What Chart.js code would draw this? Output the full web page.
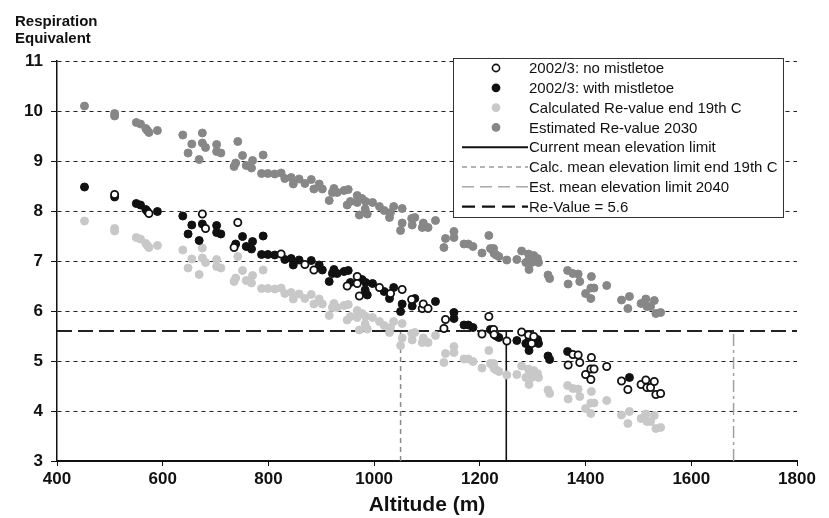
<!DOCTYPE html>
<html>
<head>
<meta charset="utf-8">
<script src="https://cdn.jsdelivr.net/npm/chart.js@4.4.0/dist/chart.umd.min.js"></script>
<style>
  html, body { margin: 0; padding: 0; background: #fff; }
  #wrap { width: 829px; height: 518px; }
</style>
</head>
<body>
<div id="wrap"><canvas id="respChart" width="829" height="518"></canvas></div>
<script>
// 2002/3 measurements, trees without mistletoe (open circles)
const noMistAlt = [509, 574, 675, 681, 735, 742, 824, 869, 886, 949,
  968, 968, 972, 1010, 1031, 1053, 1071, 1091, 1093, 1102,
  1132, 1135, 1204, 1217, 1226, 1227, 1251, 1279, 1292, 1298,
  1302, 1367, 1376, 1386, 1389, 1400, 1410, 1410, 1411, 1416,
  1440, 1468, 1480, 1505, 1514, 1516, 1523, 1530, 1533, 1542];
const noMistRe = [8.33, 7.95, 7.94, 7.65, 7.27, 7.77, 7.14, 6.93, 6.82, 6.50,
  6.69, 6.55, 6.30, 6.47, 6.35, 6.43, 6.23, 6.05, 6.14, 6.05,
  5.65, 5.83, 5.54, 5.89, 5.63, 5.53, 5.40, 5.58, 5.52, 5.35,
  5.49, 4.92, 5.13, 5.12, 4.97, 4.73, 4.84, 4.63, 5.07, 4.84,
  4.89, 4.60, 4.43, 4.53, 4.62, 4.47, 4.47, 4.59, 4.33, 4.35];

// 2002/3 measurements, trees with mistletoe (filled black)
const withMistAlt = [452, 509, 550, 558, 568, 571, 590, 638, 648, 655,
  669, 675, 702, 702, 710, 738, 751, 758, 768, 770,
  787, 790, 799, 812, 831, 843, 847, 858, 881, 896,
  902, 915, 921, 924, 930, 943, 951, 955, 977, 983,
  984, 987, 997, 1019, 1029, 1037, 1050, 1053, 1072, 1077,
  1116, 1151, 1151, 1170, 1178, 1187, 1220, 1224, 1231, 1236,
  1270, 1287, 1292, 1293, 1309, 1311, 1329, 1332, 1366, 1483];
const withMistRe = [8.48, 8.28, 8.15, 8.12, 8.03, 7.99, 7.99, 7.90, 7.54, 7.72,
  7.41, 7.74, 7.71, 7.57, 7.54, 7.34, 7.49, 7.29, 7.24, 7.39,
  7.13, 7.50, 7.13, 7.12, 7.03, 7.05, 6.92, 7.02, 7.01, 6.92,
  6.82, 6.59, 6.75, 6.83, 6.75, 6.79, 6.81, 6.57, 6.63, 6.42,
  6.57, 6.32, 6.55, 6.39, 6.25, 6.47, 5.99, 6.14, 6.10, 6.25,
  6.19, 5.97, 5.85, 5.72, 5.72, 5.67, 5.63, 5.60, 5.50, 5.47,
  5.41, 5.35, 5.39, 5.21, 5.43, 5.35, 5.10, 5.03, 5.19, 4.67];

// altitudes of the calculated / estimated Re-values (same trees)
const modelAlt = [452, 509, 509, 550, 558, 568, 571, 574, 590, 638,
  648, 655, 669, 675, 675, 681, 702, 702, 710, 735,
  738, 742, 751, 758, 768, 770, 787, 790, 799, 812,
  824, 831, 843, 847, 858, 869, 881, 886, 896, 902,
  915, 921, 924, 930, 943, 949, 951, 955, 968, 968,
  972, 977, 983, 984, 987, 997, 1010, 1019, 1029, 1031,
  1037, 1050, 1053, 1053, 1071, 1072, 1077, 1091, 1093, 1102,
  1116, 1132, 1135, 1151, 1151, 1170, 1178, 1187, 1204, 1217,
  1220, 1224, 1226, 1227, 1231, 1236, 1251, 1270, 1279, 1287,
  1292, 1292, 1293, 1298, 1302, 1309, 1311, 1329, 1332, 1366,
  1367, 1376, 1386, 1389, 1400, 1410, 1410, 1411, 1416, 1440,
  1468, 1480, 1483, 1505, 1514, 1516, 1523, 1530, 1533, 1542];
const calcRe = [7.80, 7.60, 7.65, 7.47, 7.44, 7.35, 7.31, 7.27, 7.31, 7.22,
  6.86, 7.04, 6.73, 7.06, 7.26, 6.97, 7.03, 6.89, 6.86, 6.59,
  6.66, 7.09, 6.81, 6.61, 6.56, 6.71, 6.45, 6.82, 6.45, 6.44,
  6.46, 6.35, 6.37, 6.24, 6.34, 6.25, 6.33, 6.14, 6.24, 6.14,
  5.91, 6.07, 6.15, 6.07, 6.11, 5.82, 6.13, 5.89, 6.01, 5.87,
  5.62, 5.95, 5.74, 5.89, 5.64, 5.87, 5.79, 5.71, 5.57, 5.67,
  5.79, 5.31, 5.46, 5.75, 5.55, 5.42, 5.57, 5.37, 5.46, 5.37,
  5.51, 4.97, 5.15, 5.29, 5.17, 5.04, 5.04, 4.99, 4.86, 5.21,
  4.95, 4.92, 4.95, 4.85, 4.82, 4.79, 4.72, 4.73, 4.90, 4.67,
  4.71, 4.84, 4.53, 4.67, 4.81, 4.75, 4.67, 4.42, 4.35, 4.51,
  4.24, 4.45, 4.44, 4.29, 4.05, 4.16, 3.95, 4.39, 4.16, 4.21,
  3.92, 3.75, 3.99, 3.85, 3.94, 3.79, 3.79, 3.91, 3.65, 3.67];
const estRe = [10.10, 9.90, 9.95, 9.77, 9.74, 9.65, 9.61, 9.57, 9.61, 9.52,
  9.16, 9.34, 9.03, 9.36, 9.56, 9.27, 9.33, 9.19, 9.16, 8.89,
  8.96, 9.39, 9.11, 8.91, 8.86, 9.01, 8.75, 9.12, 8.75, 8.74,
  8.76, 8.65, 8.67, 8.54, 8.64, 8.55, 8.63, 8.44, 8.54, 8.44,
  8.21, 8.37, 8.45, 8.37, 8.41, 8.12, 8.43, 8.19, 8.31, 8.17,
  7.92, 8.25, 8.04, 8.19, 7.94, 8.17, 8.09, 8.01, 7.87, 7.97,
  8.09, 7.61, 7.76, 8.05, 7.85, 7.72, 7.87, 7.67, 7.76, 7.67,
  7.81, 7.27, 7.45, 7.59, 7.47, 7.34, 7.34, 7.29, 7.16, 7.51,
  7.25, 7.22, 7.25, 7.15, 7.12, 7.09, 7.02, 7.03, 7.20, 6.97,
  7.01, 7.14, 6.83, 6.97, 7.11, 7.05, 6.97, 6.72, 6.65, 6.81,
  6.54, 6.75, 6.74, 6.59, 6.35, 6.46, 6.25, 6.69, 6.46, 6.51,
  6.22, 6.05, 6.29, 6.15, 6.24, 6.09, 6.09, 6.21, 5.95, 5.97];

// reference lines
const reValue = 5.6;
const currentLimit = 1250;
const calcLimit = 1050;
const estLimit = 1680;
const altRange = [400, 1800];
const reRange = [3, 11];

const toXY = (xs, ys) => xs.map((x, i) => ({ x: x, y: ys[i] }));

const legendItems = [
  { label: "2002/3: no mistletoe", kind: "point", fill: "#ffffff", stroke: "#111111" },
  { label: "2002/3: with mistletoe", kind: "point", fill: "#111111", stroke: "#111111" },
  { label: "Calculated Re-value end 19th C", kind: "point", fill: "#c8c8c8", stroke: "#c8c8c8" },
  { label: "Estimated Re-value 2030", kind: "point", fill: "#878787", stroke: "#878787" },
  { label: "Current mean elevation limit", kind: "line", color: "#111111", width: 2, dash: [] },
  { label: "Calc. mean elevation limit end 19th C", kind: "line", color: "#9a9a9a", width: 1.5, dash: [5, 4] },
  { label: "Est. mean elevation limit 2040", kind: "line", color: "#a8a8a8", width: 1.5, dash: [12, 6] },
  { label: "Re-Value = 5.6", kind: "line", color: "#111111", width: 2.2, dash: [13, 7] }
];

// axis heading at the top-left and the boxed legend inside the plot
const extrasPlugin = {
  id: "extras",
  afterDraw(chart) {
    const ctx = chart.ctx;
    ctx.save();
    ctx.fillStyle = "#111";
    ctx.font = "bold 15px 'Liberation Sans', Arial, sans-serif";
    ctx.textBaseline = "alphabetic";
    ctx.textAlign = "left";
    ctx.fillText("Respiration", 15, 26);
    ctx.fillText("Equivalent", 15, 43);

    // legend box
    ctx.fillStyle = "#fff";
    ctx.fillRect(453, 58, 330, 159);
    ctx.strokeStyle = "#333";
    ctx.lineWidth = 1;
    ctx.strokeRect(453.5, 58.5, 330, 159);

    ctx.font = "15px 'Liberation Sans', Arial, sans-serif";
    ctx.textBaseline = "middle";
    legendItems.forEach((item, i) => {
      const cy = 68 + i * 19.8;
      if (item.kind === "point") {
        ctx.beginPath();
        ctx.arc(496, cy, 3.6, 0, Math.PI * 2);
        ctx.fillStyle = item.fill;
        ctx.fill();
        ctx.lineWidth = 1.6;
        ctx.strokeStyle = item.stroke;
        ctx.stroke();
      } else {
        ctx.beginPath();
        ctx.setLineDash(item.dash);
        ctx.lineWidth = item.width;
        ctx.strokeStyle = item.color;
        ctx.moveTo(462, cy);
        ctx.lineTo(528, cy);
        ctx.stroke();
        ctx.setLineDash([]);
      }
      ctx.fillStyle = "#111";
      ctx.fillText(item.label, 529, cy + 1);
    });
    ctx.restore();
  }
};

const ctx = document.getElementById("respChart").getContext("2d");
const respChart = new Chart(ctx, {
  type: "scatter",
  data: {
    datasets: [
      {
        label: "2002/3: no mistletoe",
        data: toXY(noMistAlt, noMistRe),
        backgroundColor: "#ffffff",
        borderColor: "#111111",
        borderWidth: 1.8,
        pointRadius: 3.6,
        order: 0
      },
      {
        label: "2002/3: with mistletoe",
        data: toXY(withMistAlt, withMistRe),
        backgroundColor: "#111111",
        borderColor: "#111111",
        borderWidth: 1,
        pointRadius: 4,
        order: 1
      },
      {
        label: "Calculated Re-value end 19th C",
        data: toXY(modelAlt, calcRe),
        backgroundColor: "#c8c8c8",
        borderColor: "#c8c8c8",
        borderWidth: 1,
        pointRadius: 4,
        order: 2
      },
      {
        label: "Estimated Re-value 2030",
        data: toXY(modelAlt, estRe),
        backgroundColor: "#878787",
        borderColor: "#878787",
        borderWidth: 1,
        pointRadius: 4,
        order: 3
      },
      {
        type: "line",
        label: "Current mean elevation limit",
        data: [{ x: currentLimit, y: reRange[0] }, { x: currentLimit, y: reValue }],
        borderColor: "#111111",
        borderWidth: 1.6,
        pointRadius: 0,
        order: 5
      },
      {
        type: "line",
        label: "Calc. mean elevation limit end 19th C",
        data: [{ x: calcLimit, y: reRange[0] }, { x: calcLimit, y: reValue }],
        borderColor: "#8a8a8a",
        borderWidth: 1.5,
        borderDash: [5, 4],
        pointRadius: 0,
        order: 6
      },
      {
        type: "line",
        label: "Est. mean elevation limit 2040",
        data: [{ x: estLimit, y: reRange[0] }, { x: estLimit, y: reValue }],
        borderColor: "#a0a0a0",
        borderWidth: 1.5,
        borderDash: [12, 4, 3, 4],
        pointRadius: 0,
        order: 7
      },
      {
        type: "line",
        label: "Re-Value = 5.6",
        data: [{ x: altRange[0], y: reValue }, { x: altRange[1], y: reValue }],
        borderColor: "#222222",
        borderWidth: 2,
        borderDash: [15, 6],
        pointRadius: 0,
        order: 4
      }
    ]
  },
  options: {
    responsive: false,
    animation: false,
    devicePixelRatio: 1,
    layout: { padding: { top: 61, right: 32, left: 0, bottom: 0 } },
    plugins: {
      legend: { display: false },
      tooltip: { enabled: false }
    },
    scales: {
      x: {
        type: "linear",
        min: altRange[0],
        max: altRange[1],
        afterFit: (scale) => { scale.height = 57; },
        ticks: {
          stepSize: 200,
          color: "#111",
          padding: 3,
          callback: (value) => String(value),
          font: { family: "'Liberation Sans', Arial, sans-serif", size: 17, weight: "bold" }
        },
        grid: { drawOnChartArea: false, color: "#111", tickLength: 5 },
        border: { color: "#111", width: 2 },
        title: {
          display: true,
          text: "Altitude (m)",
          color: "#111",
          padding: { top: 0, bottom: 0 },
          font: { family: "'Liberation Sans', Arial, sans-serif", size: 21, weight: "bold" }
        }
      },
      y: {
        min: reRange[0],
        max: reRange[1],
        afterFit: (scale) => { scale.width = 57; },
        ticks: {
          stepSize: 1,
          color: "#111",
          padding: 8,
          font: { family: "'Liberation Sans', Arial, sans-serif", size: 17, weight: "bold" }
        },
        grid: { color: "#222", lineWidth: 1, tickLength: 6, tickColor: "#111", tickBorderDash: [] },
        border: { color: "#111", width: 1.5, dash: [4, 4] }
      }
    }
  },
  plugins: [extrasPlugin]
});
</script>
</body>
</html>
